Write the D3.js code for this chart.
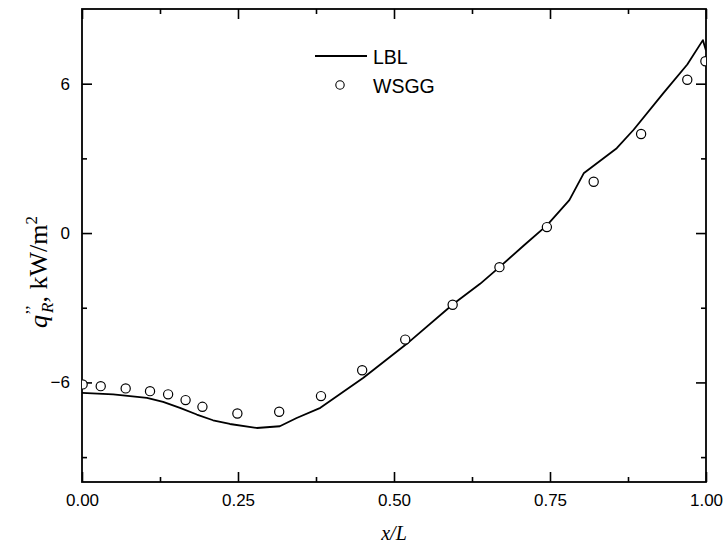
<!DOCTYPE html>
<html>
<head>
<meta charset="utf-8">
<script src="https://cdn.jsdelivr.net/npm/d3@7"></script>
<style>
  html, body { margin: 0; padding: 0; background: #fff; }
  svg { display: block; }
</style>
</head>
<body>
<svg id="chart" width="725" height="547"></svg>
<script>
// LBL reference solution (line)
const lblX = [0, 0.05, 0.104, 0.13, 0.157, 0.184, 0.21, 0.237, 0.28, 0.317, 0.344, 0.382, 0.451, 0.52, 0.595, 0.638, 0.669, 0.708, 0.745, 0.781, 0.804, 0.857, 0.884, 0.932, 0.97, 0.995, 1.0];
const lblY = [-6.42, -6.48, -6.62, -6.78, -7.02, -7.29, -7.52, -7.67, -7.83, -7.76, -7.43, -7.02, -5.81, -4.46, -2.85, -2.04, -1.37, -0.50, 0.31, 1.32, 2.40, 3.41, 4.15, 5.63, 6.77, 7.75, 7.33];

// WSGG model (open circles)
const wsggX = [0.001, 0.03, 0.07, 0.109, 0.138, 0.166, 0.193, 0.249, 0.316, 0.383, 0.449, 0.518, 0.594, 0.669, 0.745, 0.820, 0.896, 0.970, 0.999];
const wsggY = [-6.08, -6.15, -6.24, -6.35, -6.48, -6.71, -6.98, -7.25, -7.18, -6.55, -5.51, -4.28, -2.88, -1.37, 0.24, 2.06, 3.98, 6.16, 6.90];

const xMajor = [0, 0.25, 0.5, 0.75, 1.0];
const xMinor = [0.125, 0.375, 0.625, 0.875];
const yMajor = [-6, 0, 6];
const yMinor = [-9, -3, 3];
const xTickLabels = ["0.00", "0.25", "0.50", "0.75", "1.00"];
const seriesNames = ["LBL", "WSGG"];

const svg = d3.select("#chart");
const mLeft = 82, mRight = 706, mTop = 9, mBottom = 482;

const x = d3.scaleLinear().domain([0, 1]).range([mLeft, mRight]);
const y = d3.scaleLinear().domain([-10, 9]).range([mBottom, mTop]);

svg.append("rect").attr("width", 725).attr("height", 547).attr("fill", "#fff");

svg.append("defs").append("clipPath").attr("id", "plotClip")
  .append("rect").attr("x", mLeft).attr("y", mTop)
  .attr("width", mRight - mLeft).attr("height", mBottom - mTop);

const tickFont = "'Liberation Sans', Arial, sans-serif";

// Axes: inward ticks on all four sides, labels on left and bottom only
function styleAxis(g) {
  g.select(".domain").remove();
  g.selectAll("line").attr("stroke", "#000").attr("stroke-width", 1.6);
}

const bottomAxis = svg.append("g").attr("transform", `translate(0,${mBottom})`)
  .call(d3.axisBottom(x).tickValues(xMajor).tickSizeInner(-10).tickSizeOuter(0)
    .tickFormat((d, i) => xTickLabels[i]).tickPadding(12));
bottomAxis.call(styleAxis);
bottomAxis.selectAll("text").attr("font-family", tickFont).attr("font-size", 17).attr("fill", "#000");
svg.append("g").attr("transform", `translate(0,${mBottom})`)
  .call(d3.axisBottom(x).tickValues(xMinor).tickSizeInner(-5).tickSizeOuter(0).tickFormat(""))
  .call(styleAxis);

svg.append("g").attr("transform", `translate(0,${mTop})`)
  .call(d3.axisTop(x).tickValues(xMajor).tickSizeInner(-10).tickSizeOuter(0).tickFormat(""))
  .call(styleAxis);
svg.append("g").attr("transform", `translate(0,${mTop})`)
  .call(d3.axisTop(x).tickValues(xMinor).tickSizeInner(-5).tickSizeOuter(0).tickFormat(""))
  .call(styleAxis);

const leftAxis = svg.append("g").attr("transform", `translate(${mLeft},0)`)
  .call(d3.axisLeft(y).tickValues(yMajor).tickSizeInner(-10).tickSizeOuter(0).tickPadding(12)
    .tickFormat(d3.format("d")));
leftAxis.call(styleAxis);
leftAxis.selectAll("text").attr("font-family", tickFont).attr("font-size", 17).attr("fill", "#000");
svg.append("g").attr("transform", `translate(${mLeft},0)`)
  .call(d3.axisLeft(y).tickValues(yMinor).tickSizeInner(-5).tickSizeOuter(0).tickFormat(""))
  .call(styleAxis);

svg.append("g").attr("transform", `translate(${mRight},0)`)
  .call(d3.axisRight(y).tickValues(yMajor).tickSizeInner(-10).tickSizeOuter(0).tickFormat(""))
  .call(styleAxis);
svg.append("g").attr("transform", `translate(${mRight},0)`)
  .call(d3.axisRight(y).tickValues(yMinor).tickSizeInner(-5).tickSizeOuter(0).tickFormat(""))
  .call(styleAxis);

// Frame
svg.append("rect").attr("x", mLeft).attr("y", mTop)
  .attr("width", mRight - mLeft).attr("height", mBottom - mTop)
  .attr("fill", "none").attr("stroke", "#000").attr("stroke-width", 1.8);

// Data
const plot = svg.append("g").attr("clip-path", "url(#plotClip)");
const lblData = lblX.map((v, i) => [v, lblY[i]]);
const wsggData = wsggX.map((v, i) => [v, wsggY[i]]);

plot.append("path")
  .datum(lblData)
  .attr("fill", "none").attr("stroke", "#000").attr("stroke-width", 1.8)
  .attr("stroke-linejoin", "round")
  .attr("d", d3.line().x(d => x(d[0])).y(d => y(d[1])).curve(d3.curveLinear));

plot.selectAll("circle.wsgg")
  .data(wsggData).join("circle").attr("class", "wsgg")
  .attr("cx", d => x(d[0])).attr("cy", d => y(d[1])).attr("r", 4.6)
  .attr("fill", "#fff").attr("stroke", "#000").attr("stroke-width", 1.2);

// Legend
const legFont = "'Liberation Sans', Arial, sans-serif";
svg.append("line").attr("x1", 315).attr("x2", 367).attr("y1", 56).attr("y2", 56)
  .attr("stroke", "#000").attr("stroke-width", 1.8);
svg.append("circle").attr("cx", 340).attr("cy", 85).attr("r", 4.2)
  .attr("fill", "#fff").attr("stroke", "#000").attr("stroke-width", 1.1);
svg.append("text").attr("x", 373).attr("y", 63.5).text(seriesNames[0])
  .attr("font-family", legFont).attr("font-size", 19.5).attr("fill", "#000");
svg.append("text").attr("x", 373).attr("y", 92.5).text(seriesNames[1])
  .attr("font-family", legFont).attr("font-size", 19.5).attr("fill", "#000");

// Axis titles
const serif = "'Liberation Serif', 'Times New Roman', serif";
svg.append("text").attr("x", (mLeft + mRight) / 2).attr("y", 540)
  .attr("text-anchor", "middle").attr("font-family", serif)
  .attr("font-style", "italic").attr("font-size", 20).attr("fill", "#000")
  .text("x/L");

const yTitle = svg.append("text")
  .attr("transform", "translate(47,272) rotate(-90)")
  .attr("text-anchor", "middle").attr("font-family", serif)
  .attr("font-size", 26).attr("fill", "#000");
yTitle.append("tspan").attr("font-style", "italic").text("q");
yTitle.append("tspan").attr("font-size", 17).attr("dy", -10).text("\u2019\u2019");
yTitle.append("tspan").attr("font-style", "italic").attr("font-size", 17).attr("dy", 16).attr("dx", -8).text("R");
yTitle.append("tspan").attr("dy", -6).text(", kW/m");
yTitle.append("tspan").attr("font-size", 17).attr("dy", -10).text("2");
</script>
</body>
</html>
